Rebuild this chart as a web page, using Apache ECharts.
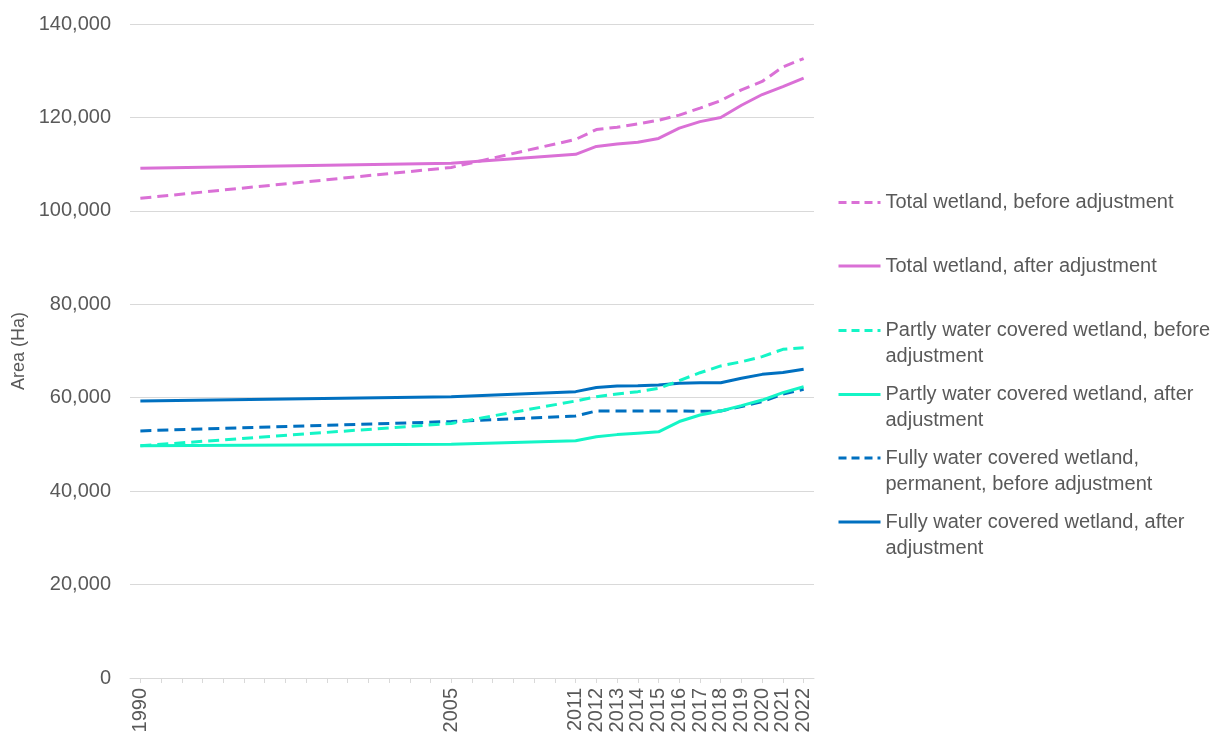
<!DOCTYPE html>
<html>
<head>
<meta charset="utf-8">
<script src="https://cdn.jsdelivr.net/npm/echarts@6/dist/echarts.min.js"></script>
<style>
  html, body { margin: 0; padding: 0; background: #ffffff; }
  #chart { width: 1224px; height: 738px; }
</style>
</head>
<body>
<div id="chart"></div>
<script>
// Survey years with observations
const years = [1990, 2005, 2011, 2012, 2013, 2014, 2015, 2016, 2017, 2018, 2019, 2020, 2021, 2022];

// Wetland area (hectares) per survey year
const totalBefore   = [102700, 109300, 115300, 117400, 117900, 118600, 119400, 120500, 122000, 123600, 125900, 127700, 130800, 132600];
const totalAfter    = [109100, 110200, 112100, 113800, 114300, 114700, 115500, 117700, 119100, 120000, 122600, 124900, 126600, 128400];
const partlyBefore  = [49700, 54500, 59300, 60200, 60800, 61300, 62000, 63650, 65350, 66800, 67700, 68800, 70350, 70700];
const partlyAfter   = [49700, 50050, 50800, 51650, 52100, 52400, 52700, 54900, 56300, 57150, 58300, 59500, 61100, 62350];
const fullyBefore   = [52900, 54900, 56100, 57150, 57150, 57150, 57150, 57150, 57100, 57150, 58100, 59150, 60800, 61800];
const fullyAfter    = [59300, 60200, 61300, 62200, 62500, 62580, 62700, 63100, 63200, 63200, 64150, 65000, 65400, 66100];

// Y axis ticks
const yTicks = [0, 20000, 40000, 60000, 80000, 100000, 120000, 140000];

const seriesNames = [
  'Total wetland, before adjustment',
  'Total wetland, after adjustment',
  'Partly water covered wetland, before\nadjustment',
  'Partly water covered wetland, after\nadjustment',
  'Fully water covered wetland,\npermanent, before adjustment',
  'Fully water covered wetland, after\nadjustment'
];
const seriesValues = [totalBefore, totalAfter, partlyBefore, partlyAfter, fullyBefore, fullyAfter];
const seriesColors = ['#DA70D6', '#DA70D6', '#14F5C6', '#14F5C6', '#0070C0', '#0070C0'];
const seriesDashed = [true, false, true, false, true, false];

// Every calendar year gets a slot on the axis; only survey years are labelled
const allYears = [];
for (let y = years[0]; y <= years[years.length - 1]; y++) allYears.push(String(y));
const labelled = new Set(years.map(String));

const FONT = '"Liberation Sans", Arial, sans-serif';
const TEXT = '#595959';

const series = seriesNames.map((name, i) => ({
  name: name,
  type: 'line',
  data: years.map((y, k) => [String(y), seriesValues[i][k]]),
  showSymbol: false,
  symbol: 'none',
  animation: false,
  color: seriesColors[i],
  lineStyle: {
    width: 3,
    color: seriesColors[i],
    type: seriesDashed[i] ? [11, 6] : 'solid'
  },
  z: 10 - i
}));

// One legend block per series so each entry sits on its own row.
// Wrapped names get a blank leading line so the swatch lines up with the first line of text.
const legendCenters = [202.5, 266, 330.5, 394.5, 458, 522];
const legends = seriesNames.map((name, i) => {
  const twoLines = name.indexOf('\n') >= 0;
  return {
    data: [name],
    left: 837,
    top: legendCenters[i] - (twoLines ? 39 : 13),
    itemWidth: 42,
    itemHeight: 14,
    padding: 0,
    selectedMode: false,
    formatter: n => (n.indexOf('\n') >= 0 ? ' \n' + n : n),
    textStyle: {
      fontFamily: FONT,
      fontSize: 20,
      color: TEXT,
      lineHeight: 26
    },
    itemStyle: { opacity: 0 },
    lineStyle: {
      width: 3,
      type: seriesDashed[i] ? [8, 5] : 'solid'
    }
  };
});

const chart = echarts.init(document.getElementById('chart'), null, { renderer: 'canvas' });
chart.setOption({
  backgroundColor: '#ffffff',
  animation: false,
  grid: { left: 130, right: 410, top: 24, bottom: 60 },
  xAxis: {
    type: 'category',
    data: allYears,
    boundaryGap: true,
    axisLine: { show: true, lineStyle: { color: '#D9D9D9', width: 1 } },
    axisTick: { show: true, alignWithLabel: true, interval: 0, length: 5, lineStyle: { color: '#D9D9D9' } },
    axisLabel: {
      interval: 0,
      rotate: 90,
      margin: 10,
      fontFamily: FONT,
      fontSize: 20,
      color: TEXT,
      formatter: v => labelled.has(v) ? v : ''
    },
    splitLine: { show: false }
  },
  yAxis: {
    type: 'value',
    min: yTicks[0],
    max: yTicks[yTicks.length - 1],
    interval: yTicks[1] - yTicks[0],
    name: 'Area (Ha)',
    nameLocation: 'middle',
    nameGap: 97,
    nameRotate: 90,
    nameTextStyle: { fontFamily: FONT, fontSize: 18, color: TEXT },
    axisLine: { show: false },
    axisTick: { show: false },
    axisLabel: {
      margin: 19,
      fontFamily: FONT,
      fontSize: 20,
      color: TEXT,
      formatter: v => v.toLocaleString('en-US')
    },
    splitLine: { lineStyle: { color: '#D9D9D9', width: 1 } }
  },
  legend: legends,
  series: series
});
</script>
</body>
</html>
